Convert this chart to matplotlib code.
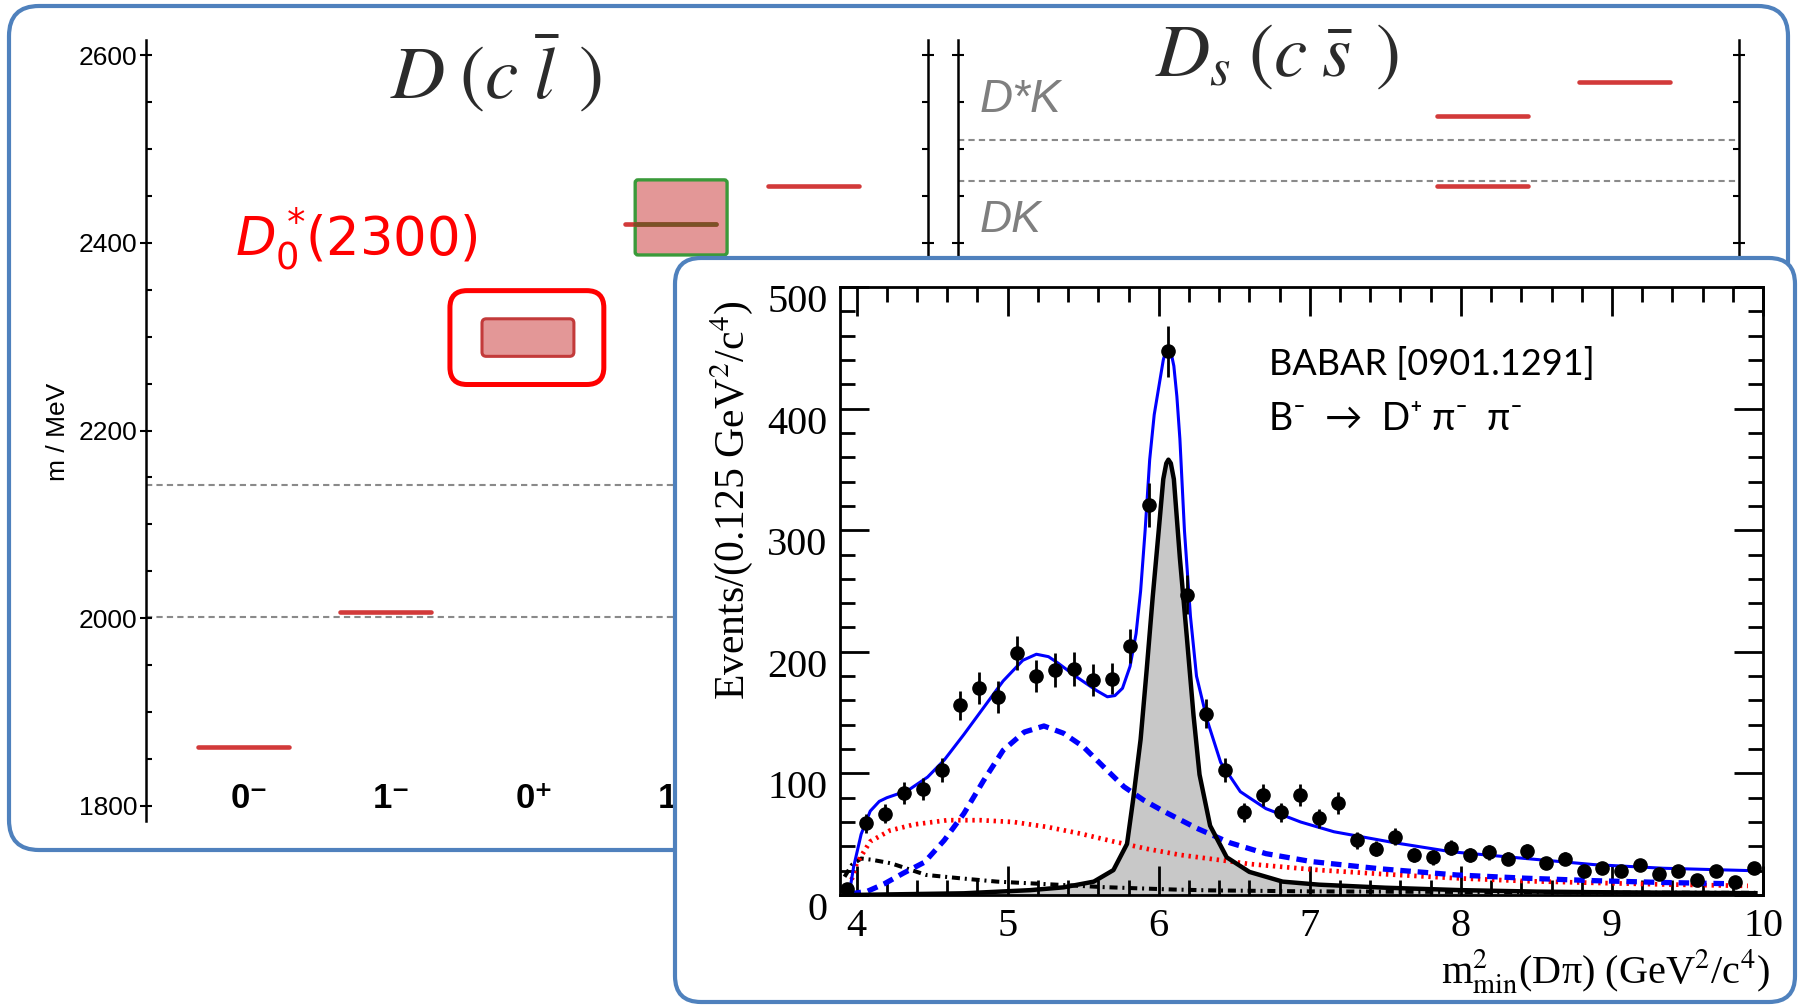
import numpy as np
import matplotlib
matplotlib.use('Agg')
import matplotlib.pyplot as plt
from matplotlib.patches import FancyBboxPatch
from matplotlib.ticker import MultipleLocator
import matplotlib.transforms as mtransforms

# ---------------- data: charm-meson spectrum (MeV) ----------------
jp_cols = [1, 2, 3, 4, 5]
jp_labels = ['0⁻', '1⁻', '0⁺', '1⁺', '2⁺']
n_visible_labels = 4     # the 2+ label is hidden behind the inset in the original

d_levels_col = [1, 2, 4, 5]
d_levels_mass = [1863, 2007, 2420, 2460]
d0_band_col = 3          # D0*(2300) band
d0_band_center = 2299
d0_band_half = 20
d1_band_col = 4          # green box in 1+ column
d1_band_center = 2427
d1_band_half = 40
d_thresholds = [2001, 2142]

ds_levels_col = [4, 4, 5]
ds_levels_mass = [2460, 2535, 2571]
ds_thresholds = [2466, 2509]
ds_threshold_labels = ['DK', 'D*K']

mass_ticks = [1800, 2000, 2200, 2400, 2600]

# ---------------- data: BABAR B- -> D+ pi- pi- ----------------
babar_x = [3.9375, 4.0625, 4.1875, 4.3125, 4.4375, 4.5625, 4.6875, 4.8125, 4.9375,
           5.0625, 5.1875, 5.3125, 5.4375, 5.5625, 5.6875, 5.8125, 5.9375, 6.0625,
           6.1875, 6.3125, 6.4375, 6.5625, 6.6875, 6.8125, 6.9375, 7.0625, 7.1875,
           7.3125, 7.4375, 7.5625, 7.6875, 7.8125, 7.9375, 8.0625, 8.1875, 8.3125,
           8.4375, 8.5625, 8.6875, 8.8125, 8.9375, 9.0625, 9.1875, 9.3125, 9.4375,
           9.5625, 9.6875, 9.8125, 9.9375]
babar_y = [5, 59, 67, 84, 87, 103, 156, 170, 163, 199, 180, 185, 186, 177, 178, 205,
           321, 447, 247, 149, 103, 68, 82, 68, 82, 63, 76, 45, 38, 48, 33, 31, 39,
           33, 35, 30, 36, 26, 30, 20, 22, 20, 25, 17, 20, 12, 20, 11, 22]
babar_err = [2, 8, 8, 9, 9, 10, 12, 13, 13, 14, 13, 14, 14, 13, 13, 14, 18, 21, 16,
             12, 10, 8, 9, 8, 9, 8, 9, 7, 6, 7, 6, 6, 6, 6, 6, 5, 6, 5, 5, 4, 5, 4,
             5, 4, 4, 3, 4, 3, 5]

total_x = [3.95, 3.98, 4.03, 4.09, 4.15, 4.20, 4.34, 4.47, 4.58, 4.71, 4.84, 4.97,
           5.10, 5.19, 5.27, 5.33, 5.46, 5.59, 5.66, 5.71, 5.76, 5.81, 5.85, 5.88,
           5.91, 5.94, 5.97, 6.01, 6.03, 6.05, 6.065, 6.08, 6.10, 6.12, 6.14, 6.17,
           6.21, 6.25, 6.32, 6.41, 6.54, 6.60, 6.71, 6.94, 7.16, 7.56, 7.94, 8.43,
           8.88, 9.34, 9.93]
total_y = [0, 23, 50, 69, 77, 80, 86, 97, 111, 132, 154, 176, 193, 198, 196, 191,
           179, 168, 163, 164, 170, 188, 215, 250, 300, 358, 395, 425, 440, 449, 451,
           447, 435, 410, 375, 300, 229, 180, 144, 109, 85, 80, 71, 60, 52, 43, 35.5,
           30, 25, 22, 20]

d0_x = [3.96, 4.07, 4.18, 4.31, 4.45, 4.58, 4.71, 4.84, 4.97, 5.11, 5.24, 5.37,
        5.50, 5.63, 5.77, 5.90, 6.03, 6.25, 6.47, 6.71, 7.01, 7.47, 7.97, 8.43,
        8.88, 9.34, 9.90]
d0_y = [1, 3, 9, 18, 27, 45, 67, 94, 119, 134, 139, 133, 122, 106, 89, 78, 69, 55,
        43, 34, 27.5, 21.5, 16.5, 13.8, 11.8, 10.3, 9]

virt_x = [3.94, 4.00, 4.09, 4.22, 4.38, 4.60, 4.82, 5.04, 5.26, 5.48, 5.70, 5.92,
          6.14, 6.45, 6.60, 7.06, 7.51, 7.97, 8.43, 8.88, 9.34, 9.90]
virt_y = [1.5, 26, 44, 53, 58, 61.5, 61.5, 60, 56, 50.5, 44, 38, 33, 28, 25.5,
          20.5, 17, 13.8, 11.4, 10, 8.7, 7.5]

bkg_x = [3.92, 3.97, 4.03, 4.10, 4.23, 4.46, 4.69, 4.93, 5.15, 5.37, 5.63, 5.86,
         6.10, 6.34, 7.00, 8.00, 9.00, 9.95]
bkg_y = [15, 25, 30, 29, 26, 16.5, 13.7, 11, 9.6, 8.2, 6.5, 5.5, 4.5, 3.8, 3.0,
         2.5, 2.0, 1.8]

d2_x = [3.95, 4.71, 5.15, 5.37, 5.57, 5.70, 5.79, 5.83, 5.88, 5.92, 5.96, 6.00,
        6.03, 6.05, 6.064, 6.08, 6.10, 6.14, 6.186, 6.23, 6.27, 6.34, 6.45, 6.60,
        6.82, 7.06, 7.50, 8.00, 8.50, 9.00, 9.95]
d2_y = [0, 1.4, 4, 6.3, 11, 20.5, 42, 78, 128, 185, 245, 300, 342, 355, 358, 355,
        342, 277, 212, 148, 99, 57, 31, 19, 11, 8.5, 6, 4, 2.8, 2.2, 1.5]

# ---------------- figure ----------------
W, H, DPI = 1801, 1005, 100
plt.rcParams['font.family'] = ['Liberation Sans', 'DejaVu Sans']
fig = plt.figure(figsize=(W / DPI, H / DPI), dpi=DPI)
fig.patch.set_facecolor('white')


def frect(x0, y0, x1, y1):
    return [x0 / W, 1 - y1 / H, (x1 - x0) / W, (y1 - y0) / H]


def fpt(x, y):
    return (x / W, 1 - y / H)


BLUE_BOX = '#4F81BD'
BAR_RED = '#D23A3A'
PINK = '#E39797'
GRAY_DASH = '#8A8A8A'

# background rounded box (pixel coords)
bg = fig.add_axes([0, 0, 1, 1], zorder=0)
bg.set_xlim(0, W)
bg.set_ylim(H, 0)
bg.axis('off')
bg.add_patch(FancyBboxPatch((9, 6), 1779, 844, boxstyle='round,pad=0,rounding_size=30',
                            fc='white', ec=BLUE_BOX, lw=3))

# ---------------- spectrum panels ----------------
XL = (0.277, 5.765)
YL = (1784, 2616)
ASPECT = (1 / 0.93875) / (1 / 142.5)
BAR_L, BAR_R = -0.36, 0.28


def style_mass_axis(ax, labels):
    ax.set_facecolor('none')
    ax.set_xlim(*XL)
    ax.set_ylim(*YL)
    for s in ['top', 'bottom']:
        ax.spines[s].set_visible(False)
    for s in ['left', 'right']:
        ax.spines[s].set_linewidth(1.8)
    ax.set_yticks(mass_ticks)
    ax.yaxis.set_minor_locator(MultipleLocator(50))
    ax.tick_params(axis='y', which='major', direction='inout', length=8, width=1.5,
                   left=True, right=True, labelsize=19, pad=2, labelleft=labels)
    ax.tick_params(axis='y', which='minor', direction='in', length=4, width=1.5,
                   left=True, right=True)


axL = fig.add_axes(frect(146, 40, 928, 821), zorder=1)
style_mass_axis(axL, True)
axL.set_xticks(jp_cols[:n_visible_labels])
axL.set_xticklabels(jp_labels[:n_visible_labels], fontsize=25, fontweight='bold')
axL.tick_params(axis='x', length=0, pad=-28)

for t in d_thresholds:
    axL.axhline(t, color=GRAY_DASH, lw=1.5, ls=(0, (3, 2)), zorder=1)

# D0*(2300) band and red frame
bx0 = d0_band_col - 0.365
bw = 0.645
axL.add_patch(FancyBboxPatch((bx0, d0_band_center - d0_band_half), bw, 2 * d0_band_half,
                             boxstyle='round,pad=0,rounding_size=0.03', mutation_aspect=ASPECT,
                             fc=PINK, ec='#C33A3A', lw=2.2, zorder=3))
axL.add_patch(FancyBboxPatch((bx0 - 0.225, d0_band_center - d0_band_half - 30), bw + 0.435,
                             2 * d0_band_half + 60,
                             boxstyle='round,pad=0,rounding_size=0.12', mutation_aspect=ASPECT,
                             fc='none', ec='#FF0000', lw=3.6, zorder=3))

# green box in 1+ column
gx0 = d1_band_col - 0.29
axL.add_patch(FancyBboxPatch((gx0, d1_band_center - d1_band_half), 0.645, 2 * d1_band_half,
                             boxstyle='round,pad=0,rounding_size=0.02', mutation_aspect=ASPECT,
                             fc=PINK, ec='#3A9A3A', lw=2.4, zorder=2))

for c, m in zip(d_levels_col, d_levels_mass):
    axL.plot([c + BAR_L, c + BAR_R], [m, m], color=BAR_RED, lw=3.3,
             solid_capstyle='round', zorder=4)
    if c == d1_band_col:
        axL.plot([gx0, c + BAR_R], [m, m], color='#7A5226', lw=3.3,
                 solid_capstyle='round', zorder=5)

fig.text(*fpt(58, 432), 'm / MeV', rotation=90, fontsize=19, ha='center', va='center',
         zorder=1.5)
fig.text(*fpt(496, 73), r'$D\;(c\;\bar{l}\;\,)$', fontsize=54, math_fontfamily='stix',
         ha='center', va='center', color='#2B2B2B', zorder=1.5)
fig.text(*fpt(235, 239), r'$D_0^*\!$(2300)', fontsize=38, color='#FF0000', ha='left',
         va='center', family='DejaVu Sans', math_fontfamily='dejavusans', zorder=1.5)

axS = fig.add_axes(frect(958, 40, 1739, 821), zorder=1)
style_mass_axis(axS, False)
axS.set_xticks([])
for t in ds_thresholds:
    axS.axhline(t, color=GRAY_DASH, lw=1.5, ls=(0, (3, 2)), zorder=1)
for c, m in zip(ds_levels_col, ds_levels_mass):
    axS.plot([c + BAR_L, c + BAR_R], [m, m], color=BAR_RED, lw=3.3,
             solid_capstyle='round', zorder=4)
axS.text(0.43, ds_thresholds[0] - 42, ds_threshold_labels[0], fontsize=32, style='italic',
         color='#7F7F7F', ha='left', va='center')
axS.text(0.43, ds_thresholds[1] + 43, ds_threshold_labels[1], fontsize=33, style='italic',
         color='#7F7F7F', ha='left', va='center')
fig.text(*fpt(1277, 56), r'$D_s\;(c\;\bar{s}\;\,)$', fontsize=54, math_fontfamily='stix',
         ha='center', va='center', color='#2B2B2B', zorder=1.5)

# ---------------- inset box ----------------
fg = fig.add_axes([0, 0, 1, 1], zorder=2)
fg.set_xlim(0, W)
fg.set_ylim(H, 0)
fg.axis('off')
fg.add_patch(FancyBboxPatch((675, 258), 1120, 744, boxstyle='round,pad=0,rounding_size=26',
                            fc='white', ec=BLUE_BOX, lw=3))

# ---------------- BABAR inset axes ----------------
ax = fig.add_axes(frect(840, 287, 1763, 895), zorder=3)
ax.set_facecolor('none')
ax.set_xlim(3.89, 10.0)
ax.set_ylim(0, 500)
ax.xaxis.set_major_locator(MultipleLocator(1))
ax.xaxis.set_minor_locator(MultipleLocator(0.2))
ax.yaxis.set_major_locator(MultipleLocator(100))
ax.yaxis.set_minor_locator(MultipleLocator(20))
for s in ax.spines.values():
    s.set_linewidth(2.0)
ax.tick_params(which='both', direction='in', top=True, right=True, width=2.0)
ax.tick_params(which='major', length=21)
ax.tick_params(which='minor', length=11)
ax.tick_params(axis='x', which='major', labelsize=29, pad=9)
ax.tick_params(axis='y', which='major', labelsize=29, pad=9)
for lbl in ax.get_xticklabels() + ax.get_yticklabels():
    lbl.set_fontfamily('Liberation Serif')

ax.fill_between(d2_x, d2_y, 0, color='#C8C8C8', lw=0, zorder=1)
ax.plot(bkg_x, bkg_y, color='black', lw=2.9, ls=(0, (2, 1.2, 0.5, 1.2)), zorder=2)
ax.plot(virt_x, virt_y, color='#FF0000', lw=3.4, ls=(0, (0.5, 1.0)), zorder=2)
ax.plot(d0_x, d0_y, color='#0000FF', lw=3.8, ls=(0, (2.0, 1.3)), zorder=2)
ax.plot(d2_x, d2_y, color='black', lw=3.2, zorder=3)
ax.plot(total_x, total_y, color='#0000FF', lw=2.2, zorder=4)
ax.errorbar(babar_x, babar_y, yerr=babar_err, fmt='o', color='black', ms=9.5,
            elinewidth=2.0, capsize=0, zorder=5)

ax.text(0.465, 0.873, 'BABAR [0901.1291]', transform=ax.transAxes, fontsize=26,
        family=['Lato', 'DejaVu Sans'], ha='left', va='center')
ax.text(0.465, 0.783, 'B⁻  →  D⁺ π⁻  π⁻', transform=ax.transAxes, fontsize=27,
        family=['Lato', 'DejaVu Sans'], ha='left', va='center')

ax.text(-0.118, 0.65, r'Events/(0.125 GeV$^{2}$/c$^{4}$)', transform=ax.transAxes,
        rotation=90, fontsize=30, family='Liberation Serif', math_fontfamily='stix',
        ha='center', va='center')
ax.text(1.008, -0.1447, r'm$^{2}_{\rm min}$(Dπ) (GeV$^{2}$/c$^{4}$)', transform=ax.transAxes,
        fontsize=29, family='Liberation Serif', math_fontfamily='stix',
        ha='right', va='baseline')

fig.canvas.draw()
shift = mtransforms.ScaledTranslation(0, -11 / DPI, fig.dpi_scale_trans)
for lbl in ax.get_yticklabels():
    lbl.set_transform(lbl.get_transform() + shift)

fig.savefig('out.png', dpi=DPI, facecolor='white')
